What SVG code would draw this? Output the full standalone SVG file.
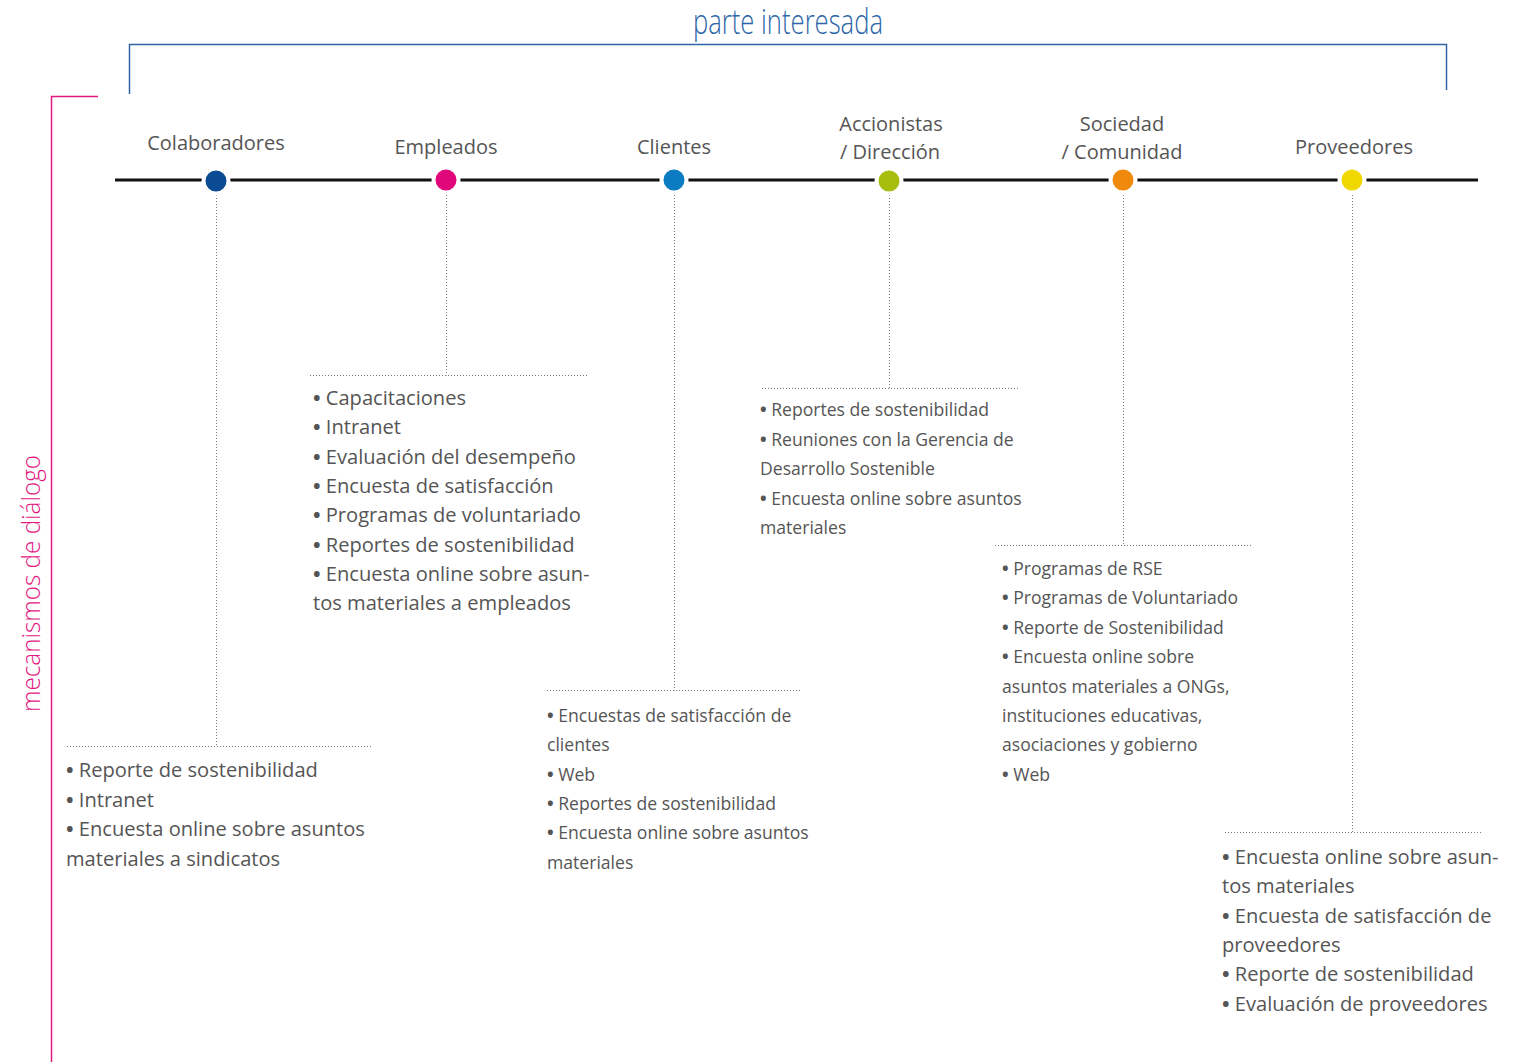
<svg xmlns="http://www.w3.org/2000/svg" width="1515" height="1062" viewBox="0 0 1515 1062">
  <style>
    .bg { fill: #ffffff; }
    .axis { stroke: #111111; stroke-width: 3; fill: none; }
    .dot { stroke: #ffffff; stroke-width: 4; }
    .lead { stroke: #7a7a7a; stroke-width: 1; stroke-dasharray: 1 2; fill: none; }
    .head { font-family: "Open Sans", "Noto Sans", "DejaVu Sans", sans-serif; font-size: 20px; fill: #555555; text-anchor: middle; }
    .big { font-family: "Open Sans", "Noto Sans", "DejaVu Sans", sans-serif; font-size: 20.1px; fill: #555555; }
    .small { font-family: "Open Sans", "Noto Sans", "DejaVu Sans", sans-serif; font-size: 17.6px; fill: #555555; }
    .b { font-weight: 700; }
    .title { font-family: "Open Sans", "DejaVu Sans", sans-serif; font-weight: 300; font-size: 35px; fill: #2c65a8; }
    .side { font-family: "Open Sans", "DejaVu Sans", sans-serif; font-weight: 300; font-size: 26px; fill: #e2187f; }
  </style>

  <rect class="bg" x="0" y="0" width="1515" height="1062"/>

  <!-- axis titles and brackets -->
  <g id="stakeholder-bracket">
    <path d="M129.5 94 V44.5 H1446.5 V90" fill="none" stroke="#2c65a8" stroke-width="1.5"/>
    <text class="title" x="693" y="34" textLength="190" lengthAdjust="spacingAndGlyphs">parte interesada</text>
  </g>
  <g id="mechanism-bracket">
    <path d="M98 96.5 H51.5 V1062" fill="none" stroke="#e2187f" stroke-width="1.5"/>
    <text class="side" transform="translate(40 712) rotate(-90)" textLength="257" lengthAdjust="spacingAndGlyphs">mecanismos de diálogo</text>
  </g>

  <!-- connectors: main line and dotted leaders -->
  <g id="connectors">
    <line class="axis" x1="115" y1="180" x2="1478" y2="180"/>
    <path class="lead" d="M216.5 195 V746.5 M67 746.5 H371"/>
    <path class="lead" d="M446.5 195 V375.5 M310 375.5 H589"/>
    <path class="lead" d="M674.5 195 V690.5 M547 690.5 H802"/>
    <path class="lead" d="M889.5 195 V388.5 M762 388.5 H1018"/>
    <path class="lead" d="M1123.5 195 V545.5 M995 545.5 H1251"/>
    <path class="lead" d="M1352.5 195 V832.5 M1225 832.5 H1481"/>
  </g>

  <g id="colaboradores">
    <circle class="dot" cx="216" cy="181" r="12.5" fill="#0b4b93"/>
    <text class="head" x="216" y="150">Colaboradores</text>
    <text class="big">
      <tspan x="66" y="777"><tspan class="b">•</tspan> Reporte de sostenibilidad</tspan>
      <tspan x="66" y="806.5"><tspan class="b">•</tspan> Intranet</tspan>
      <tspan x="66" y="836"><tspan class="b">•</tspan> Encuesta online sobre asuntos</tspan>
      <tspan x="66" y="865.5">materiales a sindicatos</tspan>
    </text>
  </g>

  <g id="empleados">
    <circle class="dot" cx="446" cy="180" r="12.5" fill="#e0077a"/>
    <text class="head" x="446" y="154">Empleados</text>
    <text class="big">
      <tspan x="313" y="405"><tspan class="b">•</tspan> Capacitaciones</tspan>
      <tspan x="313" y="434.3"><tspan class="b">•</tspan> Intranet</tspan>
      <tspan x="313" y="463.6"><tspan class="b">•</tspan> Evaluación del desempeño</tspan>
      <tspan x="313" y="492.9"><tspan class="b">•</tspan> Encuesta de satisfacción</tspan>
      <tspan x="313" y="522.2"><tspan class="b">•</tspan> Programas de voluntariado</tspan>
      <tspan x="313" y="551.5"><tspan class="b">•</tspan> Reportes de sostenibilidad</tspan>
      <tspan x="313" y="580.8"><tspan class="b">•</tspan> Encuesta online sobre asun-</tspan>
      <tspan x="313" y="610.1">tos materiales a empleados</tspan>
    </text>
  </g>

  <g id="clientes">
    <circle class="dot" cx="674" cy="180" r="12.5" fill="#0b7bc2"/>
    <text class="head" x="674" y="154">Clientes</text>
    <text class="small">
      <tspan x="547" y="722"><tspan class="b">•</tspan> Encuestas de satisfacción de</tspan>
      <tspan x="547" y="751.3">clientes</tspan>
      <tspan x="547" y="780.6"><tspan class="b">•</tspan> Web</tspan>
      <tspan x="547" y="809.9"><tspan class="b">•</tspan> Reportes de sostenibilidad</tspan>
      <tspan x="547" y="839.2"><tspan class="b">•</tspan> Encuesta online sobre asuntos</tspan>
      <tspan x="547" y="868.5">materiales</tspan>
    </text>
  </g>

  <g id="accionistas">
    <circle class="dot" cx="889" cy="181" r="12.5" fill="#a8be0f"/>
    <text class="head" x="891" y="131">Accionistas</text>
    <text class="head" x="890" y="159">/ Dirección</text>
    <text class="small">
      <tspan x="760" y="416"><tspan class="b">•</tspan> Reportes de sostenibilidad</tspan>
      <tspan x="760" y="445.5"><tspan class="b">•</tspan> Reuniones con la Gerencia de</tspan>
      <tspan x="760" y="475">Desarrollo Sostenible</tspan>
      <tspan x="760" y="504.5"><tspan class="b">•</tspan> Encuesta online sobre asuntos</tspan>
      <tspan x="760" y="534">materiales</tspan>
    </text>
  </g>

  <g id="sociedad">
    <circle class="dot" cx="1123" cy="180" r="12.5" fill="#ef8a0c"/>
    <text class="head" x="1122" y="131">Sociedad</text>
    <text class="head" x="1122" y="159">/ Comunidad</text>
    <text class="small">
      <tspan x="1002" y="575"><tspan class="b">•</tspan> Programas de RSE</tspan>
      <tspan x="1002" y="604.4"><tspan class="b">•</tspan> Programas de Voluntariado</tspan>
      <tspan x="1002" y="633.8"><tspan class="b">•</tspan> Reporte de Sostenibilidad</tspan>
      <tspan x="1002" y="663.2"><tspan class="b">•</tspan> Encuesta online sobre</tspan>
      <tspan x="1002" y="692.6">asuntos materiales a ONGs,</tspan>
      <tspan x="1002" y="722">instituciones educativas,</tspan>
      <tspan x="1002" y="751.4">asociaciones y gobierno</tspan>
      <tspan x="1002" y="780.8"><tspan class="b">•</tspan> Web</tspan>
    </text>
  </g>

  <g id="proveedores">
    <circle class="dot" cx="1352" cy="180" r="12.5" fill="#f1d700"/>
    <text class="head" x="1354" y="154">Proveedores</text>
    <text class="big">
      <tspan x="1222" y="864"><tspan class="b">•</tspan> Encuesta online sobre asun-</tspan>
      <tspan x="1222" y="893.3">tos materiales</tspan>
      <tspan x="1222" y="922.6"><tspan class="b">•</tspan> Encuesta de satisfacción de</tspan>
      <tspan x="1222" y="951.9">proveedores</tspan>
      <tspan x="1222" y="981.2"><tspan class="b">•</tspan> Reporte de sostenibilidad</tspan>
      <tspan x="1222" y="1010.5"><tspan class="b">•</tspan> Evaluación de proveedores</tspan>
    </text>
  </g>
</svg>
